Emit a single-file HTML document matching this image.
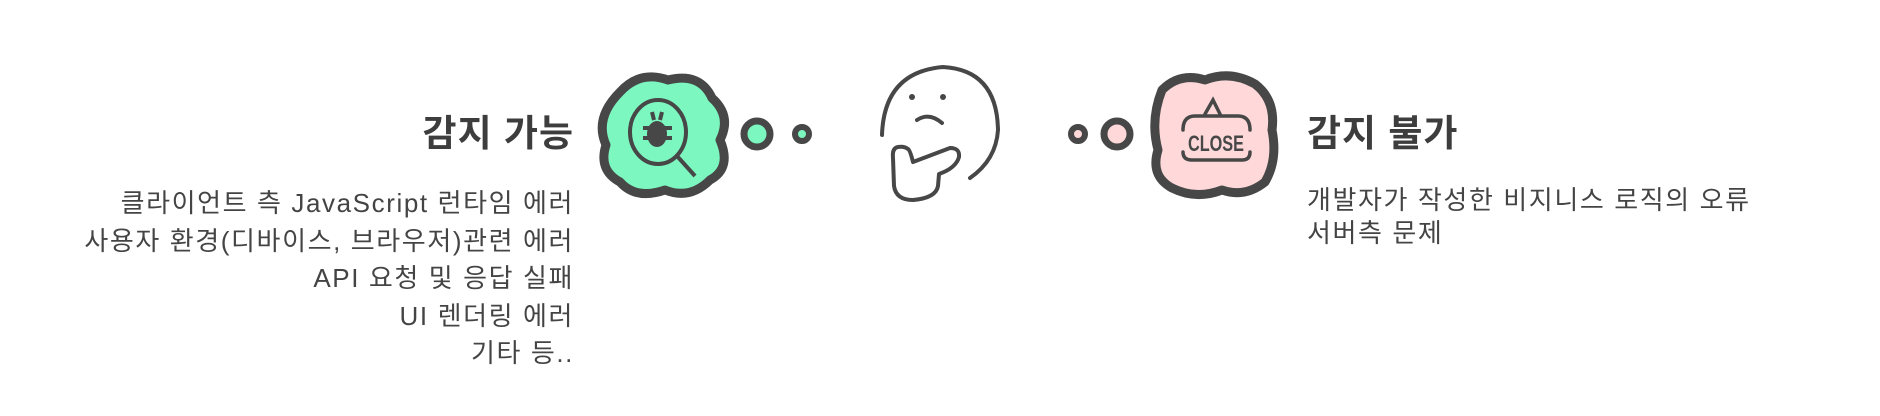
<!DOCTYPE html>
<html><head><meta charset="utf-8"><style>
html,body{margin:0;padding:0;background:#fff;width:1880px;height:416px;overflow:hidden;position:relative;font-family:"Liberation Sans","Noto Sans CJK KR",sans-serif;color:#444}
.t{position:absolute;font-weight:bold;font-size:37px;line-height:44px;color:#3d3d3d;letter-spacing:1px}
.b{position:absolute;font-size:26px;letter-spacing:1.6px;color:#444;white-space:nowrap}
</style></head><body>
<div class="t" style="right:1306px;top:112px;text-align:right">감지 가능</div>
<div class="b" style="right:1306px;top:185px;text-align:right;line-height:37.5px">
<div>클라이언트 측 JavaScript 런타임 에러</div>
<div>사용자 환경(디바이스, 브라우저)관련 에러</div>
<div>API 요청 및 응답 실패</div>
<div>UI 렌더링 에러</div>
<div>기타 등..</div>
</div>
<div class="t" style="left:1307px;top:112px">감지 불가</div>
<div class="b" style="left:1307px;top:184px;line-height:33px">
<div>개발자가 작성한 비지니스 로직의 오류</div>
<div>서버측 문제</div>
</div>
<svg width="1880" height="416" style="position:absolute;left:0;top:0">
<g stroke="#474747" stroke-width="9" stroke-linejoin="round">
<path fill="#7cf7bf" d="M620,92 Q640,70 668,80 Q700,72 712,98 Q732,116 720,140 Q732,168 710,180 Q690,200 665,190 Q636,200 620,182 Q598,170 606,145 Q594,118 620,92Z"/>
</g>
<g stroke="#474747" stroke-width="4" fill="none">
<ellipse cx="658" cy="132" rx="28" ry="32"/>
<line x1="677" y1="156" x2="695" y2="176"/>
<ellipse cx="657" cy="134" rx="10" ry="13" fill="#474747" stroke="none"/>
<line x1="643" y1="128" x2="672" y2="128"/><line x1="643" y1="138" x2="672" y2="138"/>
<line x1="652" y1="112" x2="654" y2="120"/><line x1="662" y1="112" x2="660" y2="120"/>
</g>
<circle cx="757" cy="134" r="13" fill="#7cf7bf" stroke="#474747" stroke-width="7"/>
<circle cx="802" cy="134" r="7" fill="#7cf7bf" stroke="#474747" stroke-width="6"/>
<g stroke="#474747" stroke-width="4" fill="none" stroke-linecap="round" stroke-linejoin="round">
<path d="M882,135 Q884,72 943,67 Q997,70 998,130 Q996,160 970,178"/>
<circle cx="912" cy="97" r="3" fill="#474747" stroke="none"/><circle cx="943" cy="97" r="3" fill="#474747" stroke="none"/>
<path d="M917,120 Q929,112 942,123"/>
<path d="M898,147 Q892,148 893,158 L894,186 Q896,200 913,200 Q936,198 938,186 L939,174 Q956,168 959,157 Q960,148 950,148 L913,162 Q910,150 908,149 Q904,146 898,147Z"/>
</g>
<circle cx="1078" cy="134" r="7" fill="#ffd9d9" stroke="#474747" stroke-width="6"/>
<circle cx="1117" cy="134" r="13" fill="#ffd9d9" stroke="#474747" stroke-width="7"/>
<g stroke="#474747" stroke-width="9" stroke-linejoin="round">
<path fill="#ffd9d9" d="M1162,90 Q1180,72 1205,80 Q1230,70 1255,84 Q1276,100 1272,130 Q1278,160 1265,182 Q1245,198 1222,190 Q1196,200 1172,188 Q1150,176 1158,150 Q1150,120 1162,90Z"/>
</g>
<g stroke="#474747" stroke-width="3.5" fill="none" stroke-linecap="round">
<path d="M1205,114 L1213,100 L1220,114"/>
<path d="M1183,130 Q1183,116 1195,116 L1238,116 Q1250,116 1250,130"/>
<path d="M1183,152 Q1183,160 1192,160 L1242,160 Q1250,160 1250,152"/>
<text x="1216" y="151" text-anchor="middle" font-family="Liberation Sans Narrow, Liberation Sans, sans-serif" font-size="22" font-weight="bold" fill="#474747" stroke="none" textLength="56" lengthAdjust="spacingAndGlyphs">CLOSE</text>
</g>
</svg>
</body></html>
